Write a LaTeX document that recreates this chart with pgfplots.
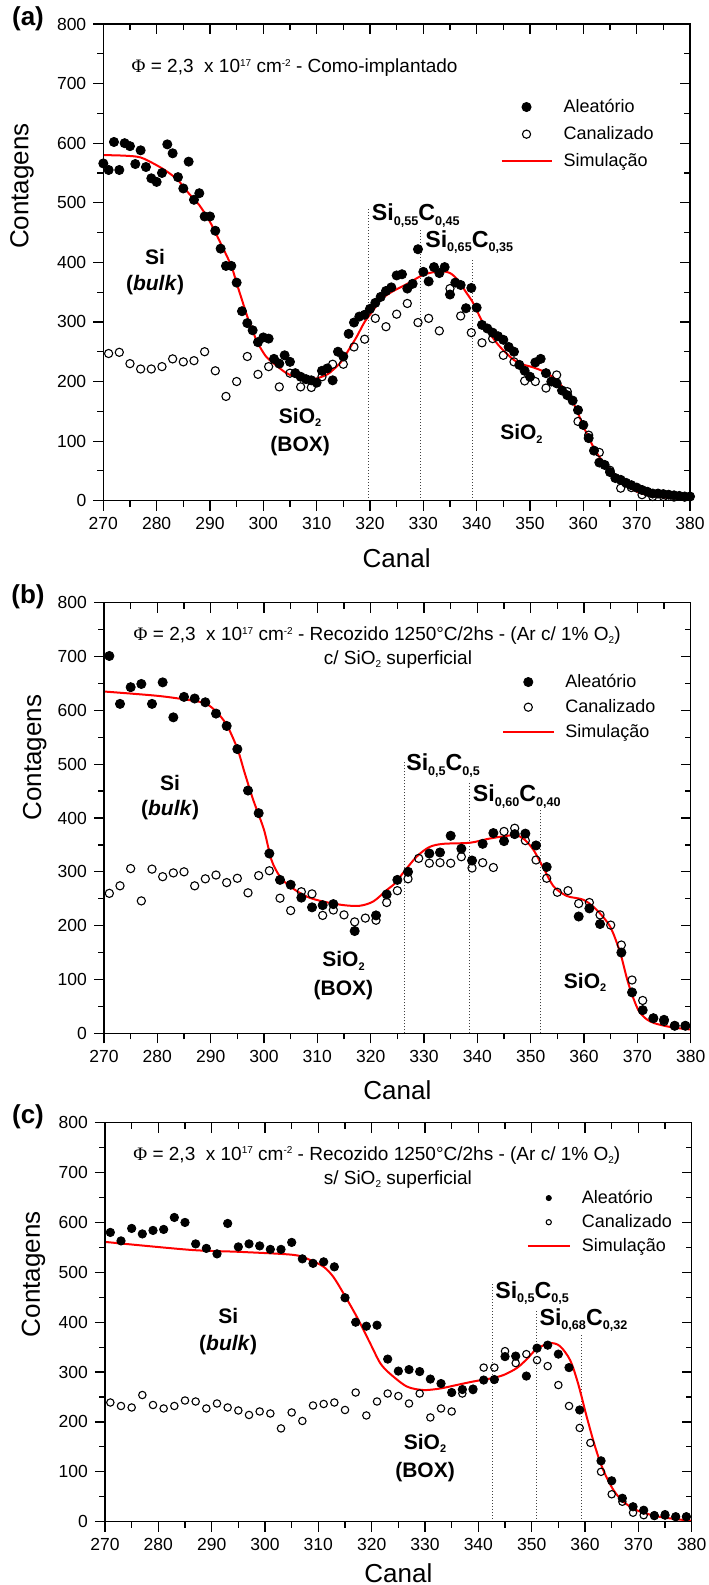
\documentclass[border=0pt]{standalone}
\usepackage{fontspec}
\setmainfont{Liberation Sans}
\newfontfamily\phifont{Liberation Serif}
\usepackage{pgfplots}
\usepackage{pgfplotstable}
\pgfplotsset{compat=1.18}

% ---------- data: panel (a) ----------
\pgfplotstableread{
x y
270 566
271 555
272 602
273 555
274 600
275 595
276 565
277 588
278 560
279 541
280 535
281 550
282 598
283 583
284 543
285 524
286 569
287 505
288 516
289 477
290 477
291 453
292 423
293 394
294 394
295 366
296 318
297 298
298 286
299 266
300 274
301 272
302 238
303 230
304 244
305 233
306 214
307 208
308 204
309 202
310 198
311 218
312 222
313 202
314 250
315 242
316 280
317 299
318 309
319 312
320 322
321 332
322 342
323 352
324 358
325 378
326 380
327 356
328 364
329 422
330 384
331 368
332 392
333 382
334 392
335 346
336 366
337 362
338 323
339 357
340 324
341 295
342 289
343 282
344 276
345 270
346 258
347 250
348 228
349 218
350 208
351 232
352 238
353 214
354 200
355 197
356 185
357 177
358 168
359 152
360 127
361 105
362 84
363 64
364 60
365 48
366 38
367 35
368 30
369 26
370 22
371 18
372 15
373 12
374 12
375 11
376 10
377 9
378 8
379 7
380 7
}\aAlea
\pgfplotstableread{
x y
271 247
273 249
275 230
277 221
279 221
281 225
283 238
285 233
287 235
289 250
291 218
293 175
295 200
297 242
299 212
301 225
303 191
305 214
307 191
309 190
311 208
313 229
315 229
317 258
319 271
321 306
323 292
325 313
327 331
329 299
331 306
333 285
335 356
337 310
339 282
341 265
343 272
345 244
347 233
349 201
351 200
353 189
355 211
357 183
359 133
361 110
363 81
365 51
367 21
369 22
371 10
373 7
375 7
377 6
379 6
}\aCan
\pgfplotstableread{
x y
270 580
274 579
277 576
280 563
282 552
284 538
286 516
288 496
290 468
292 432
294 394
295 365
296 337
297 309
298 285
299 264
300.5 242
302 230
304 216
305 211
307 206
308.5 204
310 205
312 212
313 219
314.5 232
316 253
317.5 275
319 300
320.5 318
322 337
324 350
327 364
330 379
333 385
335 382
336.5 370
338 350
339.2 334
340.2 316
341.2 298
342.5 280
344 262
345.5 248
347 236
348.5 229
350.5 224
352.5 217
354.5 206
356 192
357 180
358 166
359 147
360 125
361.2 102
362.2 85
363.2 71
364.2 60
365.2 50
366.2 40
367.5 31
369.4 18
371 12
373 8
375.5 5
377 4
380 2
}\aSim

% ---------- data: panel (b) ----------
\pgfplotstableread{
x y
271 701
273 612
275 643
277 649
279 612
281 652
283 587
285 625
287 622
289 615
291 594
293 571
295 528
297 451
299 409
301 334
303 285
305 276
307 252
309 234
311 238
313 240
317 190
321 219
323 258
325 285
327 300
331 334
333 336
335 367
337 343
339 321
341 352
343 372
345 357
347 370
349 371
351 349
353 309
359 217
361 232
363 203
367 150
369 76
371 43
373 28
375 25
377 14
379 14
}\bAlea
\pgfplotstableread{
x y
271 260
273 274
275 306
277 246
279 305
281 291
283 298
285 300
287 274
289 287
291 294
293 280
295 288
297 261
299 293
301 302
303 251
305 228
307 263
309 259
311 219
313 229
315 220
317 207
319 214
321 210
323 243
325 265
327 287
329 325
331 316
333 317
335 316
337 328
339 307
341 317
343 308
345 375
347 381
349 358
351 322
353 288
355 262
357 265
359 241
361 243
363 220
365 201
367 164
369 99
371 61
373 28
375 22
377 14
379 14
}\bCan
\pgfplotstableread{
x y
270 635
280 627
286 619
289 613
291 598
293 573
295 529
296.4 483
298 433
300 378
301.4 322
303 291
305 272
308 254
311 245
315 238
318 237
320.5 245
323 266
324.6 279
326 297
328.6 328
331 346
333.6 352
338.6 354
342.4 362
346.8 368
348.6 362
350.5 341
352.4 307
354.3 273
356.8 255
359.9 248
362.4 229
364.9 198
366.8 149
368.3 93
370.2 43
372.4 22
376 12
380 7
}\bSim

% ---------- data: panel (c) ----------
\pgfplotstableread{
x y
271 580
273 563
275 588
277 577
279 584
281 586
283 610
285 600
287 557
289 548
291 537
293 598
295 551
297 557
299 553
301 546
303 546
305 560
307 527
309 518
311 521
313 511
315 449
317 400
319 392
321 394
323 326
325 302
327 305
329 301
331 286
333 277
335 259
337 265
339 266
341 284
343 285
345 331
347 332
349 292
351 348
353 354
355 336
357 309
359 224
363 122
365 82
367 47
369 30
371 23
373 12
375 13
377 10
379 10
}\cAlea
\pgfplotstableread{
x y
271 239
273 232
275 229
277 254
279 234
281 227
283 232
285 243
287 241
289 227
291 237
293 229
295 223
297 214
299 221
301 217
303 187
305 219
307 202
309 233
311 236
313 239
315 224
317 259
319 213
321 241
323 257
325 252
327 237
329 257
331 209
333 227
335 221
337 257
339 264
341 309
343 309
345 342
347 318
349 336
351 324
353 312
355 274
357 232
359 188
361 158
363 100
365 55
367 40
369 18
371 13
373 13
375 15
377 10
379 10
}\cCan
\pgfplotstableread{
x y
270 561
286 545
295.3 541
305.3 535
308.4 525
311 511
312.8 491
314.7 458
317.2 411
319.7 358
321.6 318
323.4 297
326.6 271
329.7 264
332.8 267
335.9 274
339 281
342.2 287
344.7 294
347.2 308
349.1 326
350.9 346
353.4 358
355.3 352
357.2 324
358.7 277
360.3 211
361.9 150
363.4 104
365.3 64
367.2 40
369.7 23
373.4 11
377.2 5
380 2
}\cSim

\newcommand\csub[1]{\raisebox{-2.2pt}{\fontsize{6.3}{6.3}\selectfont #1}}
\newcommand\osub[1]{\raisebox{-1.8pt}{\fontsize{5.5}{5.5}\selectfont #1}}
\newcommand\tsup[1]{\raisebox{3.4pt}{\fontsize{5}{5}\selectfont #1}}
\newcommand\tsub[1]{\raisebox{-1.5pt}{\fontsize{5}{5}\selectfont #1}}
\newcommand\ftitle{\fontsize{9.5}{11}\selectfont}
\newcommand\fcomp{\fontsize{11.6}{13}\selectfont\bfseries}
\newcommand\freg{\fontsize{10.5}{12}\selectfont\bfseries}
\newcommand\ftag{\fontsize{13}{15}\selectfont\bfseries}
\newcommand\tphi{{\phifont Φ}}

\pgfplotsset{
  rbsbase/.style={
    scale only axis, width=293.35pt,
    xmin=270, xmax=380, ymin=0, ymax=800,
    xtick={270,280,...,380}, ytick={0,100,...,800},
    minor x tick num=1, minor y tick num=1,
    major tick length=5pt, minor tick length=3pt,
    axis line style={line width=0.7pt},
    tick style={line width=0.6pt, black},
  },
  rbs/.style={rbsbase, tick align=outside, xtick pos=bottom, ytick pos=left,
    ticklabel style={font=\fontsize{8.75}{10}\selectfont},
    /pgf/number format/assume math mode=true,
    xlabel={Canal}, ylabel={Contagens},
    label style={font=\fontsize{13}{15}\selectfont},
    xlabel style={at={(axis description cs:0.5,0)}, anchor=center},
    ylabel style={anchor=center},
    legend cell align=left,
    legend style={draw=none, fill=none, inner sep=0pt,
      font=\fontsize{9}{10.5}\selectfont,
      nodes={inner sep=1.5pt},
      /tikz/every odd column/.append style={column sep=4pt}},
    legend image code/.code={\draw[mark repeat=2,mark phase=2,##1]
      plot coordinates {(0pt,0pt)(12.5pt,0pt)(25pt,0pt)};},
  },
  rbsmirror/.style={rbsbase, tick align=inside, xtick pos=top, ytick pos=right,
    xticklabels={}, yticklabels={},
    ticklabel style={overlay, opacity=0}},
  alea/.style={only marks, mark=*, mark size=2.3pt, black},
  canal/.style={only marks, mark=o, mark size=2.05pt, mark options={line width=0.55pt}, black},
  simu/.style={red, line width=1pt, smooth, mark=none},
  sep/.style={densely dotted, line width=0.5pt, black!75, forget plot},
}

\begin{document}
\begin{tikzpicture}
\useasboundingbox (0,0) rectangle (354pt,792.5pt);

% ================= (a) =================
\begin{axis}[rbs, at={(51.65pt,542.15pt)}, anchor=south west, height=238.35pt,
  xlabel style={yshift=-28.6pt},
  ylabel style={at={(axis description cs:-0.1386,0.66)}},
  legend style={at={(axis cs:344.4,680)}, anchor=north west, row sep=2.5pt}]
\addplot[sep] coordinates {(319.7,0) (319.7,490)};
\addplot[sep] coordinates {(329.4,0) (329.4,457)};
\addplot[sep] coordinates {(339.2,0) (339.2,405)};
\addplot[alea] table {\aAlea}; \addlegendentry{Aleatório}
\addplot[canal] table {\aCan}; \addlegendentry{Canalizado}
\addplot[simu] table {\aSim}; \addlegendentry{Simulação}
\node[anchor=base west, font=\ftitle] at (axis cs:274,718)
  {\tphi{} = 2,3~ x 10\tsup{17} cm\tsup{-2} - Como-implantado};
\node[anchor=base west, font=\fcomp, inner sep=0pt] at (axis cs:320.3,470) {Si\csub{0,55}C\csub{0,45}};
\node[anchor=base west, font=\fcomp, inner sep=0pt] at (axis cs:330.3,425) {Si\csub{0,65}C\csub{0,35}};
\node[anchor=base, font=\freg] at (axis cs:279.7,397) {Si};
\node[anchor=base, font=\freg] at (axis cs:279.7,352) {(\textit{bulk})};
\node[anchor=base, font=\freg] at (axis cs:306.9,130) {SiO\osub{2}};
\node[anchor=base, font=\freg] at (axis cs:306.9,82) {(BOX)};
\node[anchor=base, font=\freg] at (axis cs:348.4,102) {SiO\osub{2}};
\end{axis}
\begin{axis}[rbsmirror, at={(51.65pt,542.15pt)}, anchor=south west, height=238.35pt]
\end{axis}

% ================= (b) =================
\begin{axis}[rbs, at={(52pt,275.85pt)}, anchor=south west, height=215.3pt,
  xlabel style={yshift=-28.3pt},
  ylabel style={at={(axis description cs:-0.118,0.64)}},
  legend style={at={(axis cs:344.6,674)}, anchor=north west, row sep=1.5pt}]
\addplot[sep] coordinates {(326.3,0) (326.3,505)};
\addplot[sep] coordinates {(338.6,0) (338.6,466)};
\addplot[sep] coordinates {(351.75,0) (351.75,414)};
\addplot[alea] table {\bAlea}; \addlegendentry{Aleatório}
\addplot[canal] table {\bCan}; \addlegendentry{Canalizado}
\addplot[simu] table {\bSim}; \addlegendentry{Simulação}
\node[anchor=base west, font=\ftitle] at (axis cs:274.25,729)
  {\tphi{} = 2,3~ x 10\tsup{17} cm\tsup{-2} - Recozido 1250°C/2hs - (Ar c/ 1\% O\tsub{2})};
\node[anchor=base west, font=\ftitle] at (axis cs:309.9,686) {c/ SiO\tsub{2} superficial};
\node[anchor=base west, font=\fcomp, inner sep=0pt] at (axis cs:326.6,488) {Si\csub{0,5}C\csub{0,5}};
\node[anchor=base west, font=\fcomp, inner sep=0pt] at (axis cs:339.1,430) {Si\csub{0,60}C\csub{0,40}};
\node[anchor=base, font=\freg] at (axis cs:282.4,452) {Si};
\node[anchor=base, font=\freg] at (axis cs:282.4,405) {(\textit{bulk})};
\node[anchor=base, font=\freg] at (axis cs:314.9,124) {SiO\osub{2}};
\node[anchor=base, font=\freg] at (axis cs:314.9,71) {(BOX)};
\node[anchor=base, font=\freg] at (axis cs:360.2,84) {SiO\osub{2}};
\end{axis}
\begin{axis}[rbsmirror, at={(52pt,275.85pt)}, anchor=south west, height=215.3pt]
\end{axis}

% ================= (c) =================
\begin{axis}[rbs, at={(52.5pt,31.65pt)}, anchor=south west, height=199.5pt,
  xlabel style={yshift=-25.6pt},
  ylabel style={at={(axis description cs:-0.122,0.62)}},
  alea/.append style={mark size=2.1pt},
  canal/.append style={mark size=1.85pt},
  legend style={at={(axis cs:349.0,672)}, anchor=north west, row sep=1pt},
  legend image code/.code={\draw[mark repeat=2,mark phase=2,#1,mark size=1.3pt]
      plot coordinates {(0pt,0pt)(10.5pt,0pt)(21pt,0pt)};}]
\addplot[sep] coordinates {(342.7,0) (342.7,478)};
\addplot[sep] coordinates {(350.9,0) (350.9,426)};
\addplot[sep] coordinates {(359.4,0) (359.4,374)};
\addplot[alea] table {\cAlea}; \addlegendentry{Aleatório}
\addplot[canal] table {\cCan}; \addlegendentry{Canalizado}
\addplot[simu] table {\cSim}; \addlegendentry{Simulação}
\node[anchor=base west, font=\ftitle] at (axis cs:274,724)
  {\tphi{} = 2,3~ x 10\tsup{17} cm\tsup{-2} - Recozido 1250°C/2hs - (Ar c/ 1\% O\tsub{2})};
\node[anchor=base west, font=\ftitle] at (axis cs:309.7,677) {s/ SiO\tsub{2} superficial};
\node[anchor=base west, font=\fcomp, inner sep=0pt] at (axis cs:343.1,448) {Si\csub{0,5}C\csub{0,5}};
\node[anchor=base west, font=\fcomp, inner sep=0pt] at (axis cs:351.4,394) {Si\csub{0,68}C\csub{0,32}};
\node[anchor=base, font=\freg] at (axis cs:293.1,398) {Si};
\node[anchor=base, font=\freg] at (axis cs:293.1,344) {(\textit{bulk})};
\node[anchor=base, font=\freg] at (axis cs:330,145) {SiO\osub{2}};
\node[anchor=base, font=\freg] at (axis cs:330,89) {(BOX)};
\end{axis}
\begin{axis}[rbsmirror, at={(52.5pt,31.65pt)}, anchor=south west, height=199.5pt]
\end{axis}

% panel tags
\node[font=\ftag, inner sep=0pt] at (14pt,783pt) {(a)};
\node[font=\ftag, inner sep=0pt] at (14pt,494pt) {(b)};
\node[font=\ftag, inner sep=0pt] at (14pt,234pt) {(c)};
\end{tikzpicture}
\end{document}
